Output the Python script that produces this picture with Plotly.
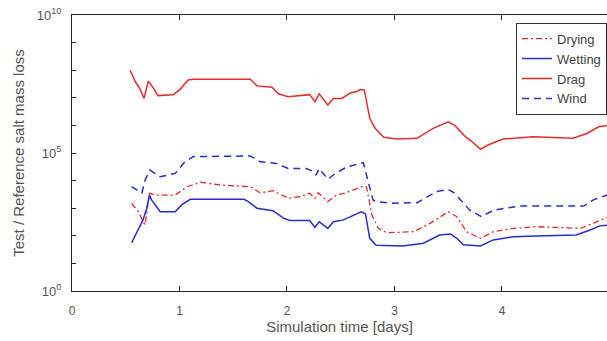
import plotly.graph_objects as go

# ---- data ----
drag_t = [0.54, 0.59, 0.63, 0.67, 0.71, 0.76, 0.80, 0.94, 1.00, 1.08, 1.13, 1.66, 1.72, 1.86, 1.92,
          2.01, 2.21, 2.26, 2.30, 2.38, 2.43, 2.51, 2.59, 2.65, 2.68, 2.72, 2.77, 2.82, 2.90, 3.02,
          3.21, 3.36, 3.50, 3.56, 3.66, 3.72, 3.80, 3.87, 4.01, 4.29, 4.66, 4.79, 4.90, 4.98]
drag_v = [1.0e8, 3.8e7, 2.2e7, 9.5e6, 4.0e7, 2.2e7, 1.2e7, 1.3e7, 1.9e7, 4.4e7, 4.7e7, 4.7e7, 2.7e7, 2.4e7, 1.4e7,
          1.1e7, 1.3e7, 7.2e6, 1.4e7, 5.5e6, 9.5e6, 9.5e6, 1.5e7, 1.7e7, 2.0e7, 1.9e7, 1.8e6, 7.9e5, 3.7e5, 3.2e5,
          3.4e5, 7.8e5, 1.35e6, 1.0e6, 3.9e5, 2.6e5, 1.35e5, 1.95e5, 3.2e5, 3.9e5, 3.4e5, 5.1e5, 8.9e5, 1.0e6]

wet_t = [0.555, 0.60, 0.66, 0.695, 0.72, 0.74, 0.82, 0.96, 1.02, 1.10, 1.60, 1.64, 1.72, 1.87, 1.97,
         2.03, 2.21, 2.26, 2.30, 2.38, 2.43, 2.52, 2.62, 2.69, 2.73, 2.77, 2.83, 3.08, 3.27, 3.42,
         3.52, 3.58, 3.64, 3.80, 3.92, 4.11, 4.32, 4.69, 4.82, 4.91, 4.98]
wet_v = [56, 123, 370, 1000, 3000, 2000, 740, 740, 1320, 2100, 2100, 1740, 1000, 810, 430,
         355, 355, 204, 324, 186, 324, 370, 560, 740, 620, 81, 45, 43, 54, 107,
         117, 81, 47, 43, 71, 93, 98, 107, 162, 229, 240]

dry_t = [0.555, 0.62, 0.66, 0.68, 0.72, 0.77, 0.96, 1.07, 1.20, 1.38, 1.66, 1.75, 1.87, 2.01, 2.12,
         2.21, 2.26, 2.29, 2.38, 2.46, 2.54, 2.62, 2.71, 2.74, 2.79, 2.85, 2.93, 3.18, 3.33, 3.50,
         3.58, 3.67, 3.80, 3.92, 4.11, 4.32, 4.73, 4.85, 4.98]
dry_v = [1500, 740, 324, 250, 3500, 3000, 3000, 6000, 8700, 6900, 6000, 3600, 4300, 2300, 2600,
         3500, 2300, 3600, 1740, 3000, 3500, 4600, 6300, 6000, 560, 186, 129, 141, 282, 740,
         490, 141, 81, 141, 186, 214, 186, 282, 470]

wind_t = [0.555, 0.65, 0.68, 0.725, 0.82, 0.96, 1.05, 1.13, 1.66, 1.75, 1.90, 2.01, 2.18, 2.25, 2.27,
          2.30, 2.38, 2.46, 2.56, 2.71, 2.74, 2.80, 2.83, 2.96, 3.21, 3.39, 3.50, 3.56, 3.70, 3.81,
          3.92, 4.17, 4.76, 4.85, 4.98]
wind_v = [6000, 3500, 10500, 24000, 13800, 18200, 48000, 74000, 78000, 48000, 42000, 27500, 27500, 21000, 15800,
          27500, 11200, 19500, 31600, 44700, 15800, 2000, 1740, 1510, 1580, 4000, 4800, 3500, 850, 490,
          850, 1200, 1200, 2000, 3000]

x_ticks = [0, 1, 2, 3, 4, 5]
y_tick_vals = [1e0, 1e1, 1e2, 1e3, 1e4, 1e5, 1e6, 1e7, 1e8, 1e9, 1e10]
y_tick_text = ["10<sup>0</sup>", "", "", "", "", "10<sup>5</sup>", "", "", "", "", "10<sup>10</sup>"]

RED = "#e52b2b"
BLUE = "#2b2bd0"

fig = go.Figure()
fig.add_trace(go.Scatter(x=dry_t, y=dry_v, mode="lines", name="Drying",
                         line=dict(color=RED, width=1.3, dash="6px,3px,2px,3px")))
fig.add_trace(go.Scatter(x=wet_t, y=wet_v, mode="lines", name="Wetting",
                         line=dict(color=BLUE, width=1.5)))
fig.add_trace(go.Scatter(x=drag_t, y=drag_v, mode="lines", name="Drag",
                         line=dict(color=RED, width=1.5)))
fig.add_trace(go.Scatter(x=wind_t, y=wind_v, mode="lines", name="Wind",
                         line=dict(color=BLUE, width=1.5, dash="7px,5px")))

axis_col = "#262626"
fig.update_layout(
    width=607, height=341,
    margin=dict(l=72, r=0, t=15, b=50),
    paper_bgcolor="white", plot_bgcolor="white",
    font=dict(family="Liberation Sans, Arial, sans-serif", size=12, color="#555555"),
    showlegend=True,
    legend=dict(x=0.83, y=0.972, xanchor="left", yanchor="top",
                bgcolor="white", bordercolor="#333333", borderwidth=1,
                font=dict(size=13, color="#444444"), tracegroupgap=0,
                itemwidth=30),
    xaxis=dict(range=[0, 4.977], tickvals=x_ticks, ticktext=[str(v) for v in x_ticks],
               showgrid=False, zeroline=False, showline=True, linecolor=axis_col, linewidth=1.2,
               mirror="ticks", ticks="inside", ticklen=5, tickcolor=axis_col,
               ticklabelstandoff=8, tickfont=dict(size=12),
               title=dict(text="Simulation time [days]", standoff=2,
                          font=dict(size=15, color="#555555"))),
    yaxis=dict(type="log", range=[0, 10], tickvals=y_tick_vals, ticktext=y_tick_text,
               showgrid=False, zeroline=False, showline=True, linecolor=axis_col, linewidth=1.2,
               mirror=False, ticks="inside", ticklen=4, tickcolor=axis_col,
               ticklabelstandoff=7, tickfont=dict(size=13),
               title=dict(text="Test / Reference salt mass loss", standoff=8,
                          font=dict(size=15, color="#555555"))),
)

fig.write_html("out.html")
